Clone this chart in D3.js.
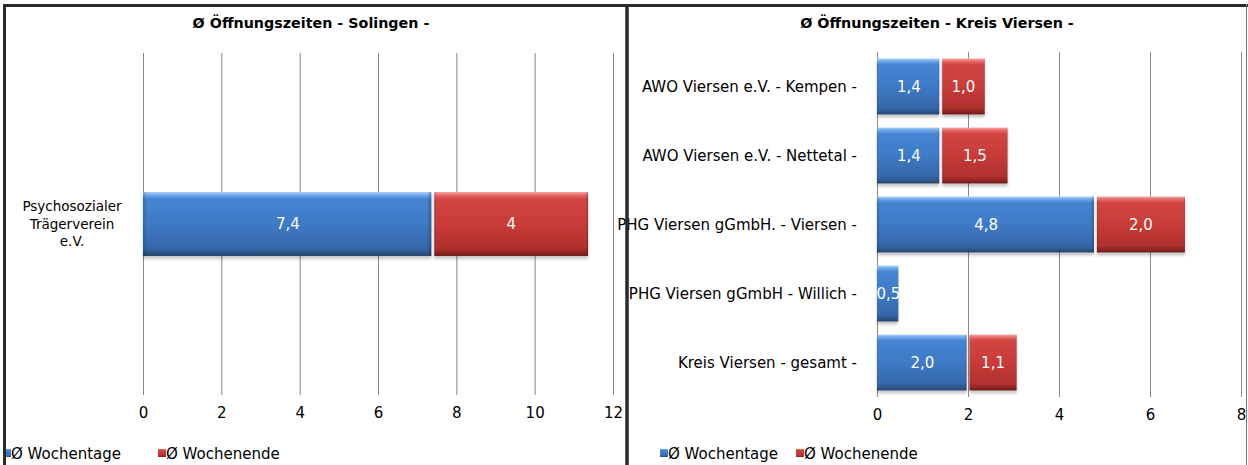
<!DOCTYPE html>
<html><head><meta charset="utf-8">
<script src="https://cdn.jsdelivr.net/npm/d3@7"></script>
<style>
body{margin:0;background:#fff}
svg{display:block;font-family:"DejaVu Sans",Verdana,sans-serif}
</style>
</head><body>
<svg id="c" width="1248" height="465"></svg>
<script>
// ---------- data ----------
const seriesNames = ["Ø Wochentage", "Ø Wochenende"];

const leftTitle = "Ø Öffnungszeiten - Solingen -";
const leftCategories = ["Psychosozialer Trägerverein e.V."];
const leftWeekdays = [7.4];
const leftWeekend = [4];
const leftTicks = [0, 2, 4, 6, 8, 10, 12];

const rightTitle = "Ø Öffnungszeiten - Kreis Viersen -";
const rightCategories = [
  "AWO Viersen e.V. - Kempen -",
  "AWO Viersen e.V. - Nettetal -",
  "PHG Viersen gGmbH. - Viersen -",
  "PHG Viersen gGmbH - Willich -",
  "Kreis Viersen - gesamt -"
];
const rightWeekdays = [1.4, 1.4, 4.8, 0.5, 2.0];
const rightWeekend = [1.0, 1.5, 2.0, 0, 1.1];
const rightTicks = [0, 2, 4, 6, 8];

// ---------- drawing ----------
const svg = d3.select("#c");
const defs = svg.append("defs");

function grad(id, stops) {
  const g = defs.append("linearGradient").attr("id", id)
    .attr("x1", 0).attr("y1", 0).attr("x2", 0).attr("y2", 1);
  stops.forEach(s => g.append("stop").attr("offset", s[0]).attr("stop-color", s[1]));
}
grad("gBlue", [[0, "#a9d0f7"], [0.05, "#6ea8ea"], [0.11, "#4585d3"], [0.5, "#3e7ac6"], [0.88, "#3567a8"], [0.95, "#2d5689"], [1, "#23446c"]]);
grad("gRed", [[0, "#f6a3a1"], [0.05, "#e56966"], [0.11, "#d24542"], [0.5, "#c83b38"], [0.88, "#b0302d"], [0.95, "#8e2523"], [1, "#6e1b1a"]]);
const hg = defs.append("linearGradient").attr("id", "gEdge").attr("x1", 0).attr("x2", 1).attr("y1", 0).attr("y2", 0);
[[0, "#000", 0.18], [0.015, "#000", 0], [0.985, "#000", 0], [1, "#000", 0.25]].forEach(s =>
  hg.append("stop").attr("offset", s[0]).attr("stop-color", s[1]).attr("stop-opacity", s[2]));
const f = defs.append("filter").attr("id", "shadow").attr("x", "-5%").attr("y", "-20%").attr("width", "110%").attr("height", "150%");
f.append("feDropShadow").attr("dx", 0).attr("dy", 3).attr("stdDeviation", 1.6)
  .attr("flood-color", "#000").attr("flood-opacity", 0.22);

const fills = ["url(#gBlue)", "url(#gRed)"];

function chart(cfg) {
  const g = svg.append("g");
  const x = d3.scaleLinear().domain(cfg.domain).range([cfg.x0, cfg.x1]);
  const y = d3.scaleBand().domain(cfg.categories).range([cfg.y0, cfg.y1])
    .paddingInner(cfg.pi).paddingOuter(cfg.po);

  // title
  g.append("text").attr("x", cfg.titleX).attr("y", 28).attr("text-anchor", "middle")
    .attr("font-size", 14.3).attr("font-weight", "bold").attr("fill", "#000").text(cfg.title);

  // gridlines
  const grid = g.append("g").attr("transform", `translate(0,${cfg.y1})`)
    .call(d3.axisBottom(x).tickValues(cfg.ticks).tickSize(-(cfg.y1 - cfg.y0)).tickFormat(""));
  grid.select(".domain").remove();
  grid.selectAll(".tick line").attr("stroke", "#8a8a8a").attr("stroke-width", 1);

  // tick labels
  const ax = g.append("g").attr("transform", `translate(0,${cfg.y1})`)
    .call(d3.axisBottom(x).tickValues(cfg.ticks).tickSize(0).tickPadding(12));
  ax.select(".domain").remove();
  ax.selectAll("text").attr("font-size", 15).attr("fill", "#000").attr("font-family", "DejaVu Sans");

  // bars
  const rows = cfg.categories.map((c, i) => ({ c, v: [cfg.s1[i], cfg.s2[i]] }));
  const fmt = cfg.fmt;
  rows.forEach(r => {
    let acc = 0;
    r.v.forEach((v, k) => {
      if (!v) return;
      const a = acc, b = acc + v;
      acc = b;
      const xa = x(a) + (k === 0 ? 0 : 1.5), xb = x(b) - 1.5;
      const bg = g.append("g");
      bg.append("rect").attr("x", xa).attr("y", y(r.c)).attr("width", xb - xa).attr("height", y.bandwidth())
        .attr("fill", fills[k]).attr("filter", "url(#shadow)");
      bg.append("rect").attr("x", xa).attr("y", y(r.c)).attr("width", xb - xa).attr("height", y.bandwidth())
        .attr("fill", "url(#gEdge)");
      g.append("text").attr("x", (x(a) + x(b)) / 2).attr("y", y(r.c) + y.bandwidth() / 2)
        .attr("dy", "0.36em").attr("text-anchor", "middle").attr("font-size", 15)
        .attr("fill", "#fff").text(fmt(v));
    });
  });

  // category labels
  cfg.categories.forEach(c => {
    const t = g.append("text").attr("font-size", cfg.catSize).attr("fill", "#000")
      .attr("text-anchor", cfg.catAnchor);
    const lines = cfg.wrap ? cfg.wrap(c) : [c];
    const cy = y(c) + y.bandwidth() / 2;
    const lh = 17.5;
    lines.forEach((ln, i) => {
      t.append("tspan").attr("x", cfg.catX)
        .attr("y", cy + (i - (lines.length - 1) / 2) * lh).attr("dy", "0.36em").text(ln);
    });
  });

  // legend
  const lg = g.append("g");
  cfg.legend.forEach((p, k) => {
    lg.append("rect").attr("x", p[0]).attr("y", 449).attr("width", 8).attr("height", 8)
      .attr("fill", fills[k]);
    lg.append("text").attr("x", p[0] + 8).attr("y", 459).attr("font-size", 15)
      .attr("fill", "#000").text(seriesNames[k]);
  });
}

const comma = s => s.replace(".", ",");

chart({
  title: leftTitle, titleX: 311,
  categories: leftCategories, s1: leftWeekdays, s2: leftWeekend, ticks: leftTicks,
  domain: [0, 12], x0: 143, x1: 613, y0: 53, y1: 395, pi: 0.685, po: 0.685,
  fmt: v => comma(d3.format("~g")(v)),
  catSize: 13.5, catAnchor: "middle", catX: 72,
  wrap: c => ["Psychosozialer", "Trägerverein", "e.V."],
  legend: [[3, 0], [158, 0]]
});

chart({
  title: rightTitle, titleX: 937,
  categories: rightCategories, s1: rightWeekdays, s2: rightWeekend, ticks: rightTicks,
  domain: [0, 8], x0: 877, x1: 1241, y0: 52, y1: 397, pi: 0.19, po: 0.095,
  fmt: v => comma(d3.format(".1f")(v)),
  catSize: 15, catAnchor: "end", catX: 857,
  legend: [[660, 0], [796, 0]]
});

// frames
const fr = svg.append("g").attr("fill", "none");
fr.append("line").attr("x1", 3).attr("x2", 1248).attr("y1", 5.5).attr("y2", 5.5).attr("stroke", "#2a2a2a").attr("stroke-width", 3);
fr.append("line").attr("x1", 4.5).attr("x2", 4.5).attr("y1", 4).attr("y2", 465).attr("stroke", "#2a2a2a").attr("stroke-width", 3);
fr.append("line").attr("x1", 627).attr("x2", 627).attr("y1", 4).attr("y2", 465).attr("stroke", "#2a2a2a").attr("stroke-width", 3.5);
fr.append("line").attr("x1", 1246.5).attr("x2", 1246.5).attr("y1", 4).attr("y2", 465).attr("stroke", "#777").attr("stroke-width", 1);
</script>
</body></html>
